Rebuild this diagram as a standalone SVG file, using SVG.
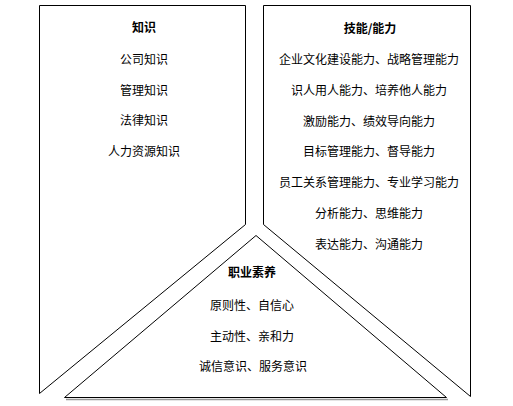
<svg xmlns="http://www.w3.org/2000/svg" width="513" height="406" viewBox="0 0 513 406">
<style>
.shape{fill:#fff;stroke:#000;stroke-width:1}
text{font-family:"Noto Sans CJK SC","Noto Sans",sans-serif;font-size:12px;fill:#000;text-anchor:middle}
.t{font-weight:bold}
</style>
<rect width="513" height="406" fill="#fff"/>
<g id="knowledge">
<path class="shape" d="M39.5,393.5 L39.5,5.5 L245.5,5.5 L245.5,224.5 Z"/>
<text class="t" x="144" y="32">知识</text>
<text x="144" y="64">公司知识</text>
<text x="144" y="95">管理知识</text>
<text x="144" y="125">法律知识</text>
<text x="144" y="156">人力资源知识</text>
</g>
<g id="skills">
<path class="shape" d="M470.5,396.5 L470.5,5.5 L263.5,5.5 L263.5,224.5 Z"/>
<text class="t" x="370" y="33">技能/能力</text>
<text x="369" y="64">企业文化建设能力、战略管理能力</text>
<text x="369" y="95">识人用人能力、培养他人能力</text>
<text x="369" y="126">激励能力、绩效导向能力</text>
<text x="369" y="156">目标管理能力、督导能力</text>
<text x="369" y="187">员工关系管理能力、专业学习能力</text>
<text x="369" y="218">分析能力、思维能力</text>
<text x="369" y="249">表达能力、沟通能力</text>
</g>
<g id="quality">
<line x1="66" y1="399.5" x2="448" y2="399.5" stroke="#999" stroke-width="1.5"/>
<path class="shape" d="M256,235.5 L64.5,397.5 L446.5,397.5 Z"/>
<text class="t" x="252" y="277">职业素养</text>
<text x="252" y="310">原则性、自信心</text>
<text x="252" y="341">主动性、亲和力</text>
<text x="253" y="371">诚信意识、服务意识</text>
</g>
<g id="connectors"></g>
</svg>
